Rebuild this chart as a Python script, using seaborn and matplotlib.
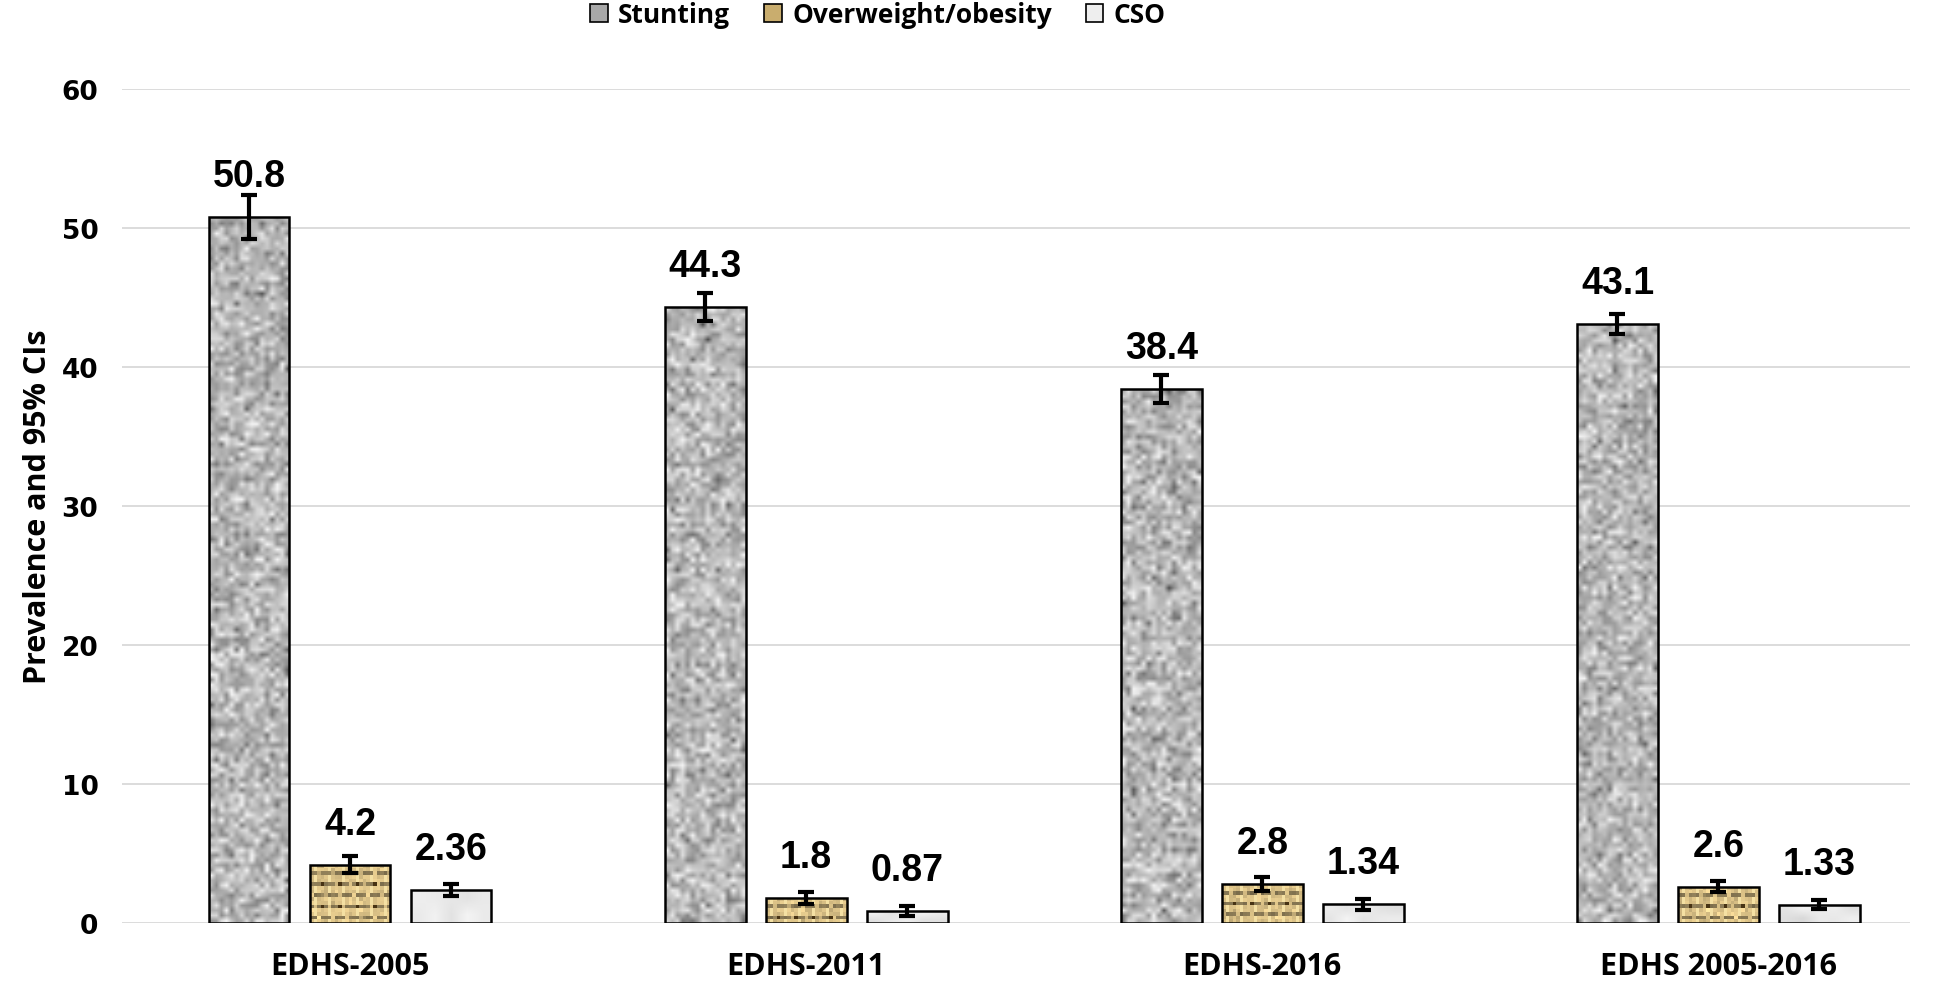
import numpy as np
import pandas as pd
import matplotlib
matplotlib.use("Agg")
import matplotlib.pyplot as plt
from matplotlib.patches import Patch
import seaborn as sns

# data
surveys = ["EDHS-2005", "EDHS-2011", "EDHS-2016", "EDHS 2005-2016"]
indicators = ["Stunting", "Overweight/obesity", "CSO"]
stunting = [50.8, 44.3, 38.4, 43.1]
overweight = [4.2, 1.8, 2.8, 2.6]
cso = [2.36, 0.87, 1.34, 1.33]
# half-width of the 95% CIs
stunting_ci = [1.6, 1.0, 1.0, 0.7]
overweight_ci = [0.6, 0.4, 0.5, 0.4]
cso_ci = [0.45, 0.35, 0.4, 0.35]
yticks = [0, 10, 20, 30, 40, 50, 60]

values = [stunting, overweight, cso]
cis = [stunting_ci, overweight_ci, cso_ci]

df = pd.DataFrame({
    "survey": surveys * 3,
    "indicator": [ind for ind in indicators for _ in surveys],
    "value": stunting + overweight + cso,
})

colors = {"Stunting": "#b0b0b0", "Overweight/obesity": "#d6bd85", "CSO": "#eeeeee"}

sns.set_theme(style="white")
plt.rcParams["text.color"] = "black"
plt.rcParams["axes.labelcolor"] = "black"
plt.rcParams["xtick.color"] = "black"
plt.rcParams["ytick.color"] = "black"

fig = plt.figure(figsize=(19.45, 9.87), dpi=100)
ax = fig.add_axes([122 / 1945, 63 / 987, (1910 - 122) / 1945, (924 - 90) / 987])

sns.barplot(data=df, x="survey", y="value", hue="indicator", hue_order=indicators,
            order=surveys, palette=colors, width=0.664, gap=0.2, errorbar=None,
            edgecolor="black", linewidth=1.8, legend=False, ax=ax, zorder=3)
bar_groups = list(ax.containers)

# textures for the bars (purely cosmetic fills)
rng = np.random.default_rng(7)


def texture(kind, nrow, ncol):
    if kind == 0:
        g = np.clip(rng.normal(0.72, 0.12, (nrow, ncol)), 0.28, 0.95)
        return np.dstack([g, g, g])
    if kind == 1:
        base = np.array([0.86, 0.76, 0.53])
        img = np.tile(base, (nrow, ncol, 1))
        img *= rng.normal(1.0, 0.06, (nrow, ncol, 1))
        for r in range(nrow):
            for c in range(ncol):
                if r % 3 == 2 and (c + r) % 4 != 0:
                    img[r, c] *= 0.62
                if c % 4 == 1 and r % 3 != 2:
                    img[r, c] = [0.96, 0.88, 0.64]
                if (r % 6 == 5) and (c % 5 == 3):
                    img[r, c] = [0.28, 0.2, 0.08]
        return np.clip(img, 0, 1)
    g = np.clip(rng.normal(0.92, 0.025, (max(nrow // 4, 2), max(ncol // 4, 2))), 0.8, 1.0)
    return np.dstack([g, g, g])


px_per_unit = (924 - 90) / 60
for k, cont in enumerate(bar_groups):
    blk = 5.0 if k == 0 else 3.5
    for bar in cont:
        x0, w, h = bar.get_x(), bar.get_width(), bar.get_height()
        nrow = max(int(h * px_per_unit / blk), 2)
        ncol = max(int(81 / blk), 2)
        img = texture(k, nrow, ncol)
        im = ax.imshow(img, extent=(x0, x0 + w, 0, h), aspect="auto",
                       interpolation="nearest" if k == 1 else "bilinear", zorder=2.5)
        im.set_clip_path(bar)
        bar.set_facecolor("none")

ax.set_xlim(-0.5, 3.42)
ax.set_ylim(0, 60)

# error bars and value labels
for k, cont in enumerate(bar_groups):
    xs = [b.get_x() + b.get_width() / 2 for b in cont]
    ax.errorbar(xs, values[k], yerr=cis[k], fmt="none", ecolor="black",
                elinewidth=3, capsize=5.5, capthick=3, zorder=4)
    for x, v in zip(xs, values[k]):
        ax.annotate(f"{v:g}", xy=(x, v), xytext=(0, 16.5), textcoords="offset points",
                    ha="center", va="bottom", fontsize=27, fontweight="bold",
                    family="Liberation Sans", color="black", zorder=5)

ax.yaxis.grid(True, color="#d9d9d9", linewidth=1.3, zorder=0)
ax.set_axisbelow(True)
for s in ax.spines.values():
    s.set_visible(False)

ax.set_yticks(yticks, labels=[str(t) for t in yticks], fontsize=19,
              fontweight="bold", family="DejaVu Sans")
ax.set_xticks(range(len(surveys)), labels=surveys, fontsize=22,
              fontweight="bold", family="Open Sans")
ax.tick_params(axis="y", length=0, pad=17)
ax.tick_params(axis="x", length=0, pad=20)
ax.set_xlabel("")
ax.set_ylabel("Prevalence and 95% CIs", fontsize=22, fontweight="bold",
              family="Open Sans", labelpad=6)

handles = [Patch(facecolor=colors[i], edgecolor="black", linewidth=1.2) for i in indicators]
handles[0].set_facecolor("#a8a8a8")
handles[1].set_facecolor("#c9ad6e")
fig.legend(handles, indicators, loc="center", bbox_to_anchor=(0.4515, 0.984), ncol=3,
           frameon=False, handlelength=0.65, handleheight=0.65, handletextpad=0.4,
           columnspacing=1.3, prop={"family": "Open Sans", "weight": "bold", "size": 19})

fig.savefig("out.png", dpi=100)
